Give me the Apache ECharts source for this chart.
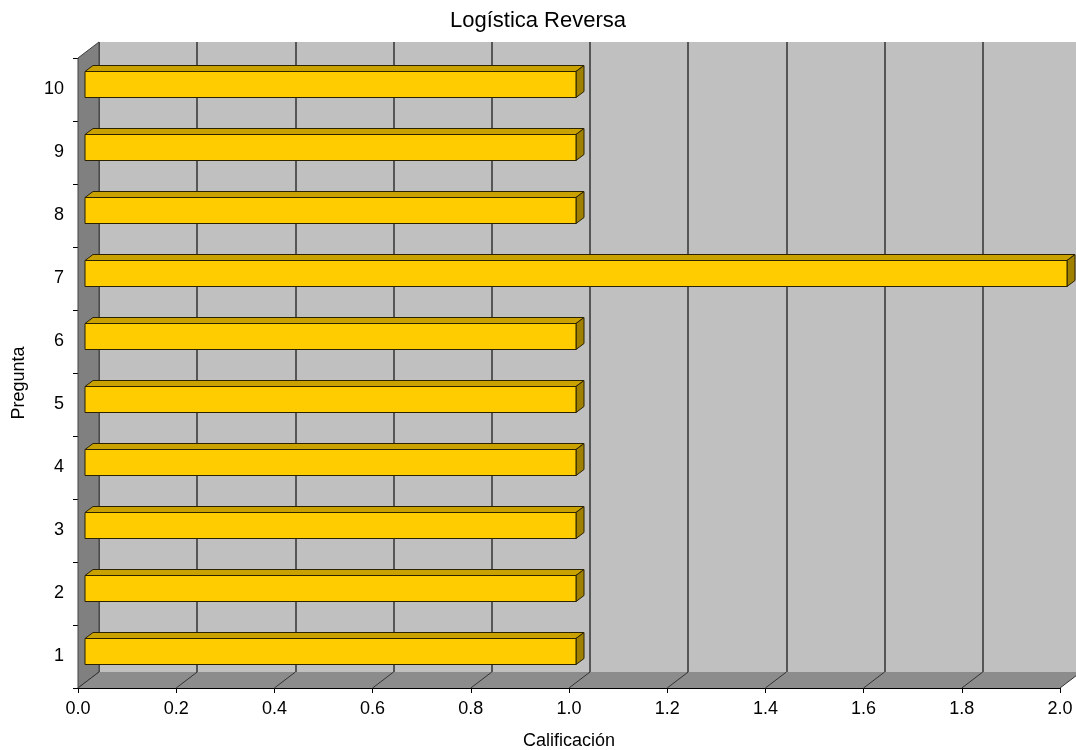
<!DOCTYPE html>
<html>
<head>
<meta charset="utf-8">
<title>Logística Reversa</title>
<script src="https://cdn.jsdelivr.net/npm/echarts@6/dist/echarts.min.js"></script>
<style>
  html, body { margin: 0; padding: 0; background: #ffffff; }
  #chart { width: 1076px; height: 750px; }
</style>
</head>
<body>
<div id="chart"></div>
<script>
// Categories (question numbers) and their scores
const preguntas = ['1', '2', '3', '4', '5', '6', '7', '8', '9', '10'];
const calificacion = [1, 1, 1, 1, 1, 1, 2, 1, 1, 1];
// Value-axis tick positions
const xTicks = [0, 0.2, 0.4, 0.6, 0.8, 1.0, 1.2, 1.4, 1.6, 1.8, 2.0];

// Pseudo-3D depth of the plot box (back wall offset from the front plane)
const DEPTH_X = 21, DEPTH_Y = 16;
// Bar placement inside the depth: front face offset and bar thickness
const BAR_OFF_X = 7, BAR_OFF_Y = 5;
const BAR_DX = 8, BAR_DY = 6;
const BAR_H = 26;

const FONT = '"Liberation Sans", Arial, sans-serif';

const frontGrid = { left: 78, top: 58, width: 982, height: 630 };
const backGrid = {
  left: frontGrid.left + DEPTH_X,
  top: frontGrid.top - DEPTH_Y,
  width: frontGrid.width,
  height: frontGrid.height
};

const chart = echarts.init(document.getElementById('chart'), null, { renderer: 'canvas' });

// Side wall, floor and the floor's grid lines
function renderWalls(params, api) {
  const cs = params.coordSys;
  const x = cs.x, y = cs.y, w = cs.width, h = cs.height;
  const children = [];
  children.push({
    type: 'polygon',
    shape: { points: [[x, y], [x + DEPTH_X, y - DEPTH_Y], [x + DEPTH_X, y + h - DEPTH_Y], [x, y + h]] },
    style: { fill: '#808080', stroke: '#404040', lineWidth: 1 }
  });
  children.push({
    type: 'polygon',
    shape: { points: [[x, y + h], [x + DEPTH_X, y + h - DEPTH_Y], [x + w + DEPTH_X, y + h - DEPTH_Y], [x + w, y + h]] },
    style: { fill: '#8c8c8c', stroke: null }
  });
  xTicks.forEach(function (v) {
    const px = api.coord([v, 0])[0];
    children.push({
      type: 'line',
      shape: { x1: px, y1: y + h, x2: px + DEPTH_X, y2: y + h - DEPTH_Y },
      style: { stroke: '#333333', lineWidth: 1 }
    });
  });
  return { type: 'group', children: children };
}

// 3D box bars: front face, top face and end face
function renderBar(params, api) {
  const val = api.value(0);
  const cat = api.value(1);
  const p0 = api.coord([0, cat]);
  const p1 = api.coord([val, cat]);
  const x0 = p0[0] + BAR_OFF_X;
  const x1 = p1[0] + BAR_OFF_X;
  const cy = p0[1] - BAR_OFF_Y;
  const top = cy - BAR_H / 2;
  const bot = cy + BAR_H / 2;
  const edge = '#2a2200';
  return {
    type: 'group',
    children: [
      {
        type: 'polygon',
        shape: { points: [[x0, top], [x0 + BAR_DX, top - BAR_DY], [x1 + BAR_DX, top - BAR_DY], [x1, top]] },
        style: { fill: '#c9a100', stroke: edge, lineWidth: 1 }
      },
      {
        type: 'polygon',
        shape: { points: [[x1, top], [x1 + BAR_DX, top - BAR_DY], [x1 + BAR_DX, bot - BAR_DY], [x1, bot]] },
        style: { fill: '#a08000', stroke: edge, lineWidth: 1 }
      },
      {
        type: 'rect',
        shape: { x: x0, y: top, width: x1 - x0, height: BAR_H },
        style: { fill: '#ffcc00', stroke: edge, lineWidth: 1 }
      }
    ]
  };
}

const option = {
  backgroundColor: '#ffffff',
  animation: false,
  title: {
    text: 'Logística Reversa',
    left: 'center',
    top: 5,
    textStyle: { fontFamily: FONT, fontSize: 22, fontWeight: 'normal', color: '#000000' }
  },
  grid: [
    Object.assign({ containLabel: false, outerBoundsMode: 'none' }, frontGrid),
    Object.assign({ containLabel: false, outerBoundsMode: 'none', show: true, backgroundColor: '#c0c0c0', borderWidth: 0 }, backGrid)
  ],
  xAxis: [
    {
      gridIndex: 0,
      type: 'value',
      min: 0,
      max: 2,
      interval: 0.2,
      name: 'Calificación',
      nameLocation: 'middle',
      nameGap: 44,
      nameTextStyle: { fontFamily: FONT, fontSize: 18, color: '#000000' },
      axisLine: { show: true, lineStyle: { color: '#000000', width: 1 } },
      axisTick: { show: true, length: 5, lineStyle: { color: '#000000' } },
      axisLabel: {
        margin: 12,
        fontFamily: FONT,
        fontSize: 18,
        color: '#000000',
        formatter: function (v) { return v.toFixed(1); }
      },
      splitLine: { show: false }
    },
    {
      gridIndex: 1,
      type: 'value',
      min: 0,
      max: 2,
      interval: 0.2,
      axisLine: { show: false },
      axisTick: { show: false },
      axisLabel: { show: false },
      splitLine: { show: true, lineStyle: { color: '#333333', width: 1.5 } }
    }
  ],
  yAxis: [
    {
      gridIndex: 0,
      type: 'category',
      data: preguntas,
      name: 'Pregunta',
      nameLocation: 'middle',
      nameGap: 50,
      nameRotate: 90,
      nameTextStyle: { fontFamily: FONT, fontSize: 18, color: '#000000', padding: [0, 20, 0, 0] },
      axisLine: { show: true, lineStyle: { color: '#000000', width: 1 } },
      axisTick: { show: true, length: 5, lineStyle: { color: '#000000' } },
      axisLabel: { margin: 14, fontFamily: FONT, fontSize: 18, color: '#000000' },
      splitLine: { show: false }
    },
    {
      gridIndex: 1,
      type: 'category',
      data: preguntas,
      axisLine: { show: false },
      axisTick: { show: false },
      axisLabel: { show: false },
      splitLine: { show: false }
    }
  ],
  series: [
    {
      name: 'walls',
      type: 'custom',
      xAxisIndex: 0,
      yAxisIndex: 0,
      silent: true,
      z: 1,
      renderItem: renderWalls,
      data: [[0, 0]]
    },
    {
      name: 'Calificación',
      type: 'custom',
      xAxisIndex: 0,
      yAxisIndex: 0,
      z: 3,
      renderItem: renderBar,
      encode: { x: 0, y: 1 },
      data: calificacion.map(function (v, i) { return [v, i]; })
    }
  ]
};

chart.setOption(option);
</script>
</body>
</html>
